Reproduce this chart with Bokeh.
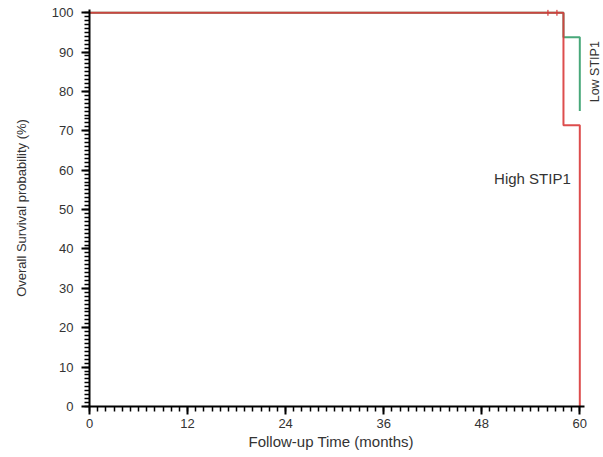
from math import pi

from bokeh.embed import file_html
from bokeh.models import Label, SingleIntervalTicker, Title
from bokeh.plotting import figure
from bokeh.resources import INLINE

# Kaplan-Meier steps (months, survival %)
high_time = [0, 58.0, 58.0, 60.0, 60.0]
high_surv = [100, 100, 71.4, 71.4, 0]
low_time = [0, 58.0, 58.0, 60.0, 60.0]
low_surv = [100, 100, 93.75, 93.75, 75.0]

# censored observations at 100 %
cens_time = [56.1, 57.2]
cens_surv = [100, 100]

x_ticks_interval = 12
y_ticks_interval = 10

RED = "#d93a3a"
GREEN = "#48a87a"
TEXT = "#333333"
FONT = "Liberation Sans"

p = figure(
    width=603, height=457,
    x_range=(0, 62.9), y_range=(0, 100.8),
    output_backend="svg", toolbar_location=None,
    min_border_left=89, min_border_right=0,
    min_border_top=9, min_border_bottom=51,
)
p.outline_line_color = None
p.xgrid.visible = False
p.ygrid.visible = False
p.background_fill_color = "white"
p.border_fill_color = "white"

p.line(low_time, low_surv, line_color=GREEN, line_width=2)
p.line(high_time, high_surv, line_color=RED, line_width=2, line_alpha=0.9)
p.scatter(cens_time, cens_surv, marker="dash", angle=pi / 2, size=6,
          line_color=RED, line_width=1.2)

p.xaxis.ticker = SingleIntervalTicker(interval=x_ticks_interval, num_minor_ticks=12)
p.yaxis.ticker = SingleIntervalTicker(interval=y_ticks_interval, num_minor_ticks=10)
# the time axis stops just past 60 months; the space to its right holds a label
p.xaxis.bounds = (0, 60.6)

for ax in (p.xaxis[0], p.yaxis[0]):
    ax.axis_line_width = 2
    ax.axis_line_color = "black"
    ax.major_tick_line_width = 2
    ax.major_tick_line_color = "black"
    ax.minor_tick_line_width = 1.5
    ax.minor_tick_line_color = "black"
    ax.major_tick_in = 0
    ax.major_tick_out = 8
    ax.minor_tick_in = 0
    ax.minor_tick_out = 5
    ax.major_label_text_font = FONT
    ax.major_label_text_font_size = "13px"
    ax.major_label_text_color = TEXT
    ax.axis_label_text_font = FONT
    ax.axis_label_text_font_style = "normal"
    ax.axis_label_text_color = TEXT

p.xaxis.major_label_standoff = 4

p.yaxis.axis_label = "Overall Survival probability (%)"
p.yaxis.axis_label_text_font_size = "13px"
p.yaxis.major_label_standoff = 8
p.yaxis.axis_label_standoff = 20

# x axis title, centred under the 0-60 month span
p.add_layout(Title(text="Follow-up Time (months)", align="left", offset=159,
                   standoff=0, text_font=FONT, text_font_size="15px",
                   text_font_style="normal", text_color=TEXT), "below")

p.add_layout(Label(x=54.2, y=57.9, text="High STIP1", text_font=FONT,
                   text_font_size="15px", text_color=TEXT,
                   text_align="center", text_baseline="middle"))
p.add_layout(Label(x=61.9, y=85.0, text="Low STIP1", text_font=FONT,
                   text_font_size="12.5px", text_color=TEXT, angle=pi / 2,
                   text_align="center", text_baseline="middle"))

open("out.html", "w").write(file_html(p, INLINE))
